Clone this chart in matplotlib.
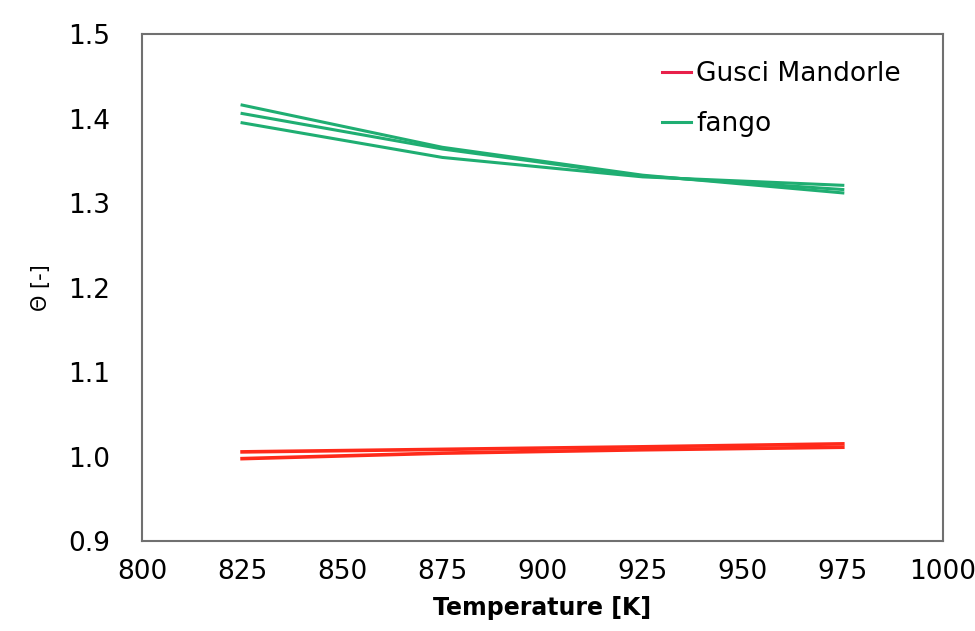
import matplotlib
matplotlib.use('Agg')
import matplotlib.pyplot as plt
from matplotlib.ticker import MultipleLocator

plt.rcParams['font.family'] = ['DejaVu Sans']

# temperature points (K)
T = [825, 875, 925, 975]

# Gusci Mandorle (two runs)
gusci_a = [1.0055, 1.0085, 1.0115, 1.0150]
gusci_b = [0.9975, 1.0040, 1.0080, 1.0110]

# fango (three runs)
fango_a = [1.416, 1.366, 1.333, 1.312]
fango_b = [1.406, 1.364, 1.332, 1.316]
fango_c = [1.395, 1.354, 1.331, 1.321]

red = '#ff2a1a'
green = '#1fae72'

fig = plt.figure(figsize=(9.75, 6.31), dpi=100)
ax = fig.add_axes([0.1456, 0.1426, 0.8215, 0.8034])

ax.plot(T, gusci_a, color=red, lw=2.6)
ax.plot(T, gusci_b, color=red, lw=2.6)
ax.plot(T, fango_a, color=green, lw=2.2)
ax.plot(T, fango_b, color=green, lw=2.2)
ax.plot(T, fango_c, color=green, lw=2.2)

# legend handles
ax.plot([], [], color='#e8204a', lw=2.2, label='Gusci Mandorle')
ax.plot([], [], color=green, lw=2.2, label='fango')

ax.set_xlim(800, 1000)
ax.set_ylim(0.9, 1.5)
ax.xaxis.set_major_locator(MultipleLocator(25))
ax.yaxis.set_major_locator(MultipleLocator(0.1))
ax.yaxis.set_major_formatter(plt.FormatStrFormatter('%.1f'))

for s in ax.spines.values():
    s.set_color('#707070')
    s.set_linewidth(1.5)

ax.tick_params(axis='both', direction='in', length=0, labelsize=19)
ax.tick_params(axis='y', pad=23)
ax.tick_params(axis='x', pad=13)

ax.set_xlabel('Temperature [K]', fontsize=17, fontweight='bold', labelpad=8)
ax.set_ylabel('Θ [-]', fontsize=15)
ax.yaxis.set_label_coords(-0.113, 0.5)

handles, labels = ax.get_legend_handles_labels()
leg = ax.legend(handles[-2:], labels[-2:], loc='upper left', frameon=False,
                fontsize=19, handlelength=1.1, handletextpad=0.2,
                labelspacing=0.9, borderpad=0, borderaxespad=0,
                bbox_to_anchor=(0.649, 0.946))

fig.savefig('out.png', dpi=100)
